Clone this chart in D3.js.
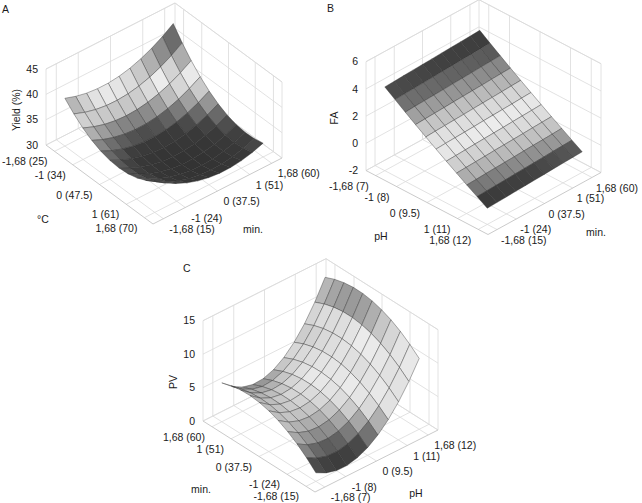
<!DOCTYPE html>
<html>
<head>
<meta charset="utf-8">
<title>Response surfaces</title>
<script src="https://d3js.org/d3.v7.min.js"></script>
<style>
  body { margin: 0; background: #fff; }
  svg text { font-family: "Liberation Sans", Arial, Helvetica, sans-serif; font-size: 10.5px; fill: #1a1a1a; }
</style>
</head>
<body>
<svg width="642" height="503"></svg>
<script>
// coded levels of the 11 x 11 design grid
var levels = [-1.68, -1.344, -1.008, -0.672, -0.336, 0, 0.336, 0.672, 1.008, 1.344, 1.68];
var codedTicks = [-1.68, -1, 0, 1, 1.68];

// tick labels: coded level (real value)
var tempLabels = ["-1,68 (25)", "-1 (34)", "0 (47.5)", "1 (61)", "1,68 (70)"];
var timeLabels = ["-1,68 (15)", "-1 (24)", "0 (37.5)", "1 (51)", "1,68 (60)"];
var phLabels = ["-1,68 (7)", "-1 (8)", "0 (9.5)", "1 (11)", "1,68 (12)"];
var yieldTicks = [30, 35, 40, 45];
var faTicks = [-2, 0, 2, 4, 6];
var pvTicks = [0, 5, 10, 15];

// Yield (%): rows = temperature level, columns = time level
var yieldValues = [
  [39.43, 38.72, 38.25, 38.03, 38.04, 38.30, 38.80, 39.55, 40.53, 41.76, 43.24],
  [37.65, 36.86, 36.32, 36.02, 35.97, 36.15, 36.58, 37.25, 38.17, 39.33, 40.73],
  [36.18, 35.33, 34.71, 34.34, 34.21, 34.33, 34.69, 35.29, 36.13, 37.22, 38.54],
  [35.04, 34.11, 33.43, 32.99, 32.79, 32.83, 33.11, 33.64, 34.41, 35.43, 36.68],
  [34.23, 33.23, 32.47, 31.95, 31.68, 31.65, 31.87, 32.32, 33.02, 33.96, 35.15],
  [33.73, 32.66, 31.83, 31.25, 30.90, 30.80, 30.94, 31.33, 31.95, 32.82, 33.93],
  [33.57, 32.42, 31.52, 30.86, 30.45, 30.27, 30.34, 30.65, 31.21, 32.01, 33.05],
  [33.72, 32.51, 31.53, 30.80, 30.31, 30.07, 30.07, 30.31, 30.79, 31.51, 32.48],
  [34.20, 32.91, 31.87, 31.07, 30.51, 30.19, 30.11, 30.28, 30.69, 31.35, 32.24],
  [35.01, 33.65, 32.53, 31.65, 31.02, 30.63, 30.48, 30.58, 30.92, 31.50, 32.33],
  [36.13, 34.70, 33.51, 32.56, 31.86, 31.40, 31.18, 31.20, 31.47, 31.98, 32.73]
];

// FA: rows = pH level, columns = time level
var faValues = [
  [4.16, 4.19, 4.23, 4.26, 4.29, 4.32, 4.36, 4.39, 4.42, 4.45, 4.49],
  [3.62, 3.66, 3.69, 3.72, 3.75, 3.79, 3.82, 3.85, 3.88, 3.92, 3.95],
  [3.09, 3.13, 3.16, 3.19, 3.22, 3.26, 3.29, 3.32, 3.36, 3.39, 3.42],
  [2.57, 2.61, 2.64, 2.67, 2.71, 2.74, 2.77, 2.80, 2.84, 2.87, 2.90],
  [2.06, 2.10, 2.13, 2.16, 2.19, 2.23, 2.26, 2.29, 2.32, 2.36, 2.39],
  [1.56, 1.60, 1.63, 1.66, 1.69, 1.73, 1.76, 1.79, 1.82, 1.86, 1.89],
  [1.07, 1.10, 1.13, 1.17, 1.20, 1.23, 1.26, 1.30, 1.33, 1.36, 1.40],
  [0.59, 0.62, 0.65, 0.68, 0.72, 0.75, 0.78, 0.81, 0.85, 0.88, 0.91],
  [0.11, 0.14, 0.18, 0.21, 0.24, 0.27, 0.31, 0.34, 0.37, 0.40, 0.44],
  [-0.35, -0.32, -0.29, -0.26, -0.22, -0.19, -0.16, -0.13, -0.09, -0.06, -0.03],
  [-0.81, -0.78, -0.75, -0.71, -0.68, -0.65, -0.62, -0.58, -0.55, -0.52, -0.49]
];

// PV: rows = pH level, columns = time level
var pvValues = [
  [1.28, 2.65, 3.81, 4.77, 5.53, 6.09, 6.44, 6.59, 6.53, 6.27, 5.81],
  [0.49, 1.80, 2.91, 3.82, 4.52, 5.02, 5.32, 5.41, 5.30, 4.99, 4.48],
  [0.07, 1.34, 2.41, 3.27, 3.93, 4.38, 4.64, 4.69, 4.53, 4.18, 3.62],
  [0.05, 1.28, 2.31, 3.14, 3.76, 4.18, 4.39, 4.41, 4.22, 3.82, 3.23],
  [0.40, 1.61, 2.61, 3.41, 4.01, 4.40, 4.59, 4.58, 4.36, 3.94, 3.32],
  [1.14, 2.33, 3.31, 4.10, 4.67, 5.05, 5.22, 5.19, 4.96, 4.52, 3.88],
  [2.26, 3.44, 4.42, 5.19, 5.76, 6.13, 6.29, 6.25, 6.01, 5.56, 4.92],
  [3.77, 4.95, 5.93, 6.70, 7.27, 7.64, 7.80, 7.76, 7.52, 7.08, 6.43],
  [5.66, 6.85, 7.84, 8.62, 9.20, 9.58, 9.75, 9.72, 9.49, 9.05, 8.41],
  [7.93, 9.14, 10.15, 10.95, 11.55, 11.94, 12.14, 12.13, 11.91, 11.49, 10.87],
  [10.59, 11.82, 12.86, 13.69, 14.31, 14.74, 14.96, 14.98, 14.79, 14.40, 13.81]
];

// layout of each panel: floor corner, screen vectors of the u (left) and v (right) axes, height of z range
var panels = [
  {
    letter: "A", values: yieldValues, rowsOn: "u",
    uDomain: [-2, 2], vDomain: [-2, 2], zDomain: [30, 45], zTicks: yieldTicks,
    uLabels: tempLabels, vLabels: timeLabels,
    zTitle: "Yield (%)", uTitle: "\u00b0C", vTitle: "min.",
    origin: [46, 145], ub: [107, 79], vb: [129, -66], zh: 76,
    letterPos: [2, 13], zTitlePos: [16, 110], uTitlePos: [43, 223], vTitlePos: [253, 233],
    vLabelDx: 6, ambient: 0.4,
    shadeZ: [30, 31.8, 33.2, 35.0, 36.8, 38.6, 40.6, 43.2],
    shadeGray: [50, 60, 115, 195, 238, 185, 120, 75]
  },
  {
    letter: "B", values: faValues, rowsOn: "u",
    uDomain: [-2, 2], vDomain: [-2, 2], zDomain: [-2, 6], zTicks: faTicks,
    uLabels: phLabels, vLabels: timeLabels,
    zTitle: "FA", uTitle: "pH", vTitle: "min.",
    origin: [366, 170.5], ub: [122, 64], vb: [113, -62], zh: 108.8,
    letterPos: [327, 12], zTitlePos: [334, 118], uTitlePos: [381, 240], vTitlePos: [596, 236],
    vLabelDx: 4, ambient: 0.4,
    shadeZ: [-0.8, -0.42, 0.04, 0.51, 0.99, 1.48, 1.98, 2.48, 3.0, 3.52, 4.06, 4.5],
    shadeGray: [50, 65, 140, 188, 215, 236, 220, 190, 148, 100, 65, 55]
  },
  {
    letter: "C", values: pvValues, rowsOn: "v",
    uDomain: [2, -2], vDomain: [-2, 2], zDomain: [0, 15], zTicks: pvTicks,
    uLabels: timeLabels, vLabels: phLabels,
    zTitle: "PV", uTitle: "min.", vTitle: "pH",
    origin: [203, 421], ub: [112, 71], vb: [123, -62], zh: 100.3,
    letterPos: [183, 272], zTitlePos: [173, 382], uTitlePos: [201, 493], vTitlePos: [416, 497],
    vLabelDx: 6, ambient: 0.6,
    shadeZ: [0, 1.5, 3, 4.5, 6, 8, 10.5, 12.5, 14, 15],
    shadeGray: [50, 75, 150, 215, 235, 222, 236, 205, 140, 105]
  }
];

var light = [0.55, -0.45, 0.7];
var ll = Math.hypot(light[0], light[1], light[2]);
light = light.map(function(d) { return d / ll; });

var svg = d3.select("svg");
panels.forEach(drawPanel);

function drawPanel(p) {
  var fu = d3.scaleLinear().domain(p.uDomain).range([0, 1]);
  var fv = d3.scaleLinear().domain(p.vDomain).range([0, 1]);
  var zs = d3.scaleLinear().domain(p.zDomain).range([0, p.zh]);
  var zn = d3.scaleLinear().domain(p.zDomain).range([0, 1]);
  var gray = d3.scaleLinear().domain(p.shadeZ).range(p.shadeGray).clamp(true);

  function pt(u, v, z) {
    var a = fu(u), b = fv(v);
    return [p.origin[0] + a * p.ub[0] + b * p.vb[0],
            p.origin[1] + a * p.ub[1] + b * p.vb[1] - zs(z)];
  }

  var g = svg.append("g");
  var u0 = p.uDomain[0], u1 = p.uDomain[1];
  var v0 = p.vDomain[0], v1 = p.vDomain[1];
  var z0 = p.zDomain[0], z1 = p.zDomain[1];

  // grid on floor and back walls
  var segs = [];
  codedTicks.forEach(function(t) {
    segs.push([[t, v0, z0], [t, v1, z0]]);
    segs.push([[u0, t, z0], [u1, t, z0]]);
    segs.push([[u0, t, z0], [u0, t, z1]]);
    segs.push([[t, v1, z0], [t, v1, z1]]);
  });
  p.zTicks.forEach(function(z) {
    segs.push([[u0, v0, z], [u0, v1, z]]);
    segs.push([[u0, v1, z], [u1, v1, z]]);
  });
  segs.push([[u0, v0, z0], [u0, v0, z1]], [[u0, v1, z0], [u0, v1, z1]], [[u1, v1, z0], [u1, v1, z1]],
            [[u0, v0, z1], [u0, v1, z1]], [[u0, v1, z1], [u1, v1, z1]],
            [[u0, v0, z0], [u0, v1, z0]], [[u0, v1, z0], [u1, v1, z0]]);

  g.append("g")
    .selectAll("line").data(segs).join("line")
    .attr("x1", function(s) { return pt.apply(null, s[0])[0]; })
    .attr("y1", function(s) { return pt.apply(null, s[0])[1]; })
    .attr("x2", function(s) { return pt.apply(null, s[1])[0]; })
    .attr("y2", function(s) { return pt.apply(null, s[1])[1]; })
    .attr("stroke", "#dadada").attr("stroke-width", 0.8);

  // front floor edges (axis lines)
  var axes = [[[u0, v0, z0], [u1, v0, z0]], [[u1, v0, z0], [u1, v1, z0]]];
  g.append("g")
    .selectAll("line").data(axes).join("line")
    .attr("x1", function(s) { return pt.apply(null, s[0])[0]; })
    .attr("y1", function(s) { return pt.apply(null, s[0])[1]; })
    .attr("x2", function(s) { return pt.apply(null, s[1])[0]; })
    .attr("y2", function(s) { return pt.apply(null, s[1])[1]; })
    .attr("stroke", "#c4c4c4").attr("stroke-width", 0.9);

  // surface facets
  function zAt(iu, iv) {
    return p.rowsOn === "u" ? p.values[iu][iv] : p.values[iv][iu];
  }
  var n = levels.length, faces = [];
  for (var iu = 0; iu < n - 1; iu++) {
    for (var iv = 0; iv < n - 1; iv++) {
      var ua = levels[iu], ub2 = levels[iu + 1], va = levels[iv], vb2 = levels[iv + 1];
      var z00 = zAt(iu, iv), z10 = zAt(iu + 1, iv), z11 = zAt(iu + 1, iv + 1), z01 = zAt(iu, iv + 1);
      var da = fu(ub2) - fu(ua), db = fv(vb2) - fv(va);
      var gu = ((zn(z10) - zn(z00)) + (zn(z11) - zn(z01))) / 2 / da;
      var gv = ((zn(z01) - zn(z00)) + (zn(z11) - zn(z10))) / 2 / db;
      var len = Math.hypot(gu, gv, 1);
      var shade = Math.max(0, (-gu * light[0] - gv * light[1] + light[2]) / len);
      var factor = Math.min(1, p.ambient + (1 - p.ambient) * shade / 0.8);
      var mean = (z00 + z10 + z11 + z01) / 4;
      var c = Math.round(50 + (gray(mean) - 50) * factor);
      var cu = (fu(ua) + fu(ub2)) / 2, cv = (fv(va) + fv(vb2)) / 2;
      faces.push({
        pts: [pt(ua, va, z00), pt(ub2, va, z10), pt(ub2, vb2, z11), pt(ua, vb2, z01)],
        color: d3.rgb(c, c, c).formatHex(),
        depth: p.vb[0] * cu - p.ub[0] * cv
      });
    }
  }
  faces.sort(function(a, b) { return a.depth - b.depth; });

  g.append("g")
    .selectAll("path").data(faces).join("path")
    .attr("d", function(f) { return "M" + f.pts.join("L") + "Z"; })
    .attr("fill", function(f) { return f.color; })
    .attr("stroke", "#2e2e2e").attr("stroke-width", 0.45).attr("stroke-opacity", 0.85)
    .attr("stroke-linejoin", "round");

  // tick labels
  var lab = g.append("g");
  lab.selectAll("text.z").data(p.zTicks).join("text").attr("class", "z")
    .attr("x", function(z) { return pt(u0, v0, z)[0] - 8; })
    .attr("y", function(z) { return pt(u0, v0, z)[1]; })
    .attr("dy", "0.35em").attr("text-anchor", "end")
    .text(function(z) { return z; });
  lab.selectAll("text.u").data(codedTicks).join("text").attr("class", "u")
    .attr("x", function(t) { return pt(t, v0, z0)[0] - 7; })
    .attr("y", function(t) { return pt(t, v0, z0)[1] + 10.5; })
    .attr("dy", "0.35em").attr("text-anchor", "end")
    .text(function(t, i) { return p.uLabels[i]; });
  lab.selectAll("text.v").data(codedTicks).join("text").attr("class", "v")
    .attr("x", function(t) { return pt(u1, t, z0)[0] + p.vLabelDx; })
    .attr("y", function(t) { return pt(u1, t, z0)[1] + 10.5; })
    .attr("dy", "0.35em").attr("text-anchor", "start")
    .text(function(t, i) { return p.vLabels[i]; });

  // axis titles and panel letter
  lab.append("text")
    .attr("transform", "translate(" + p.zTitlePos[0] + "," + p.zTitlePos[1] + ") rotate(-90)")
    .attr("dy", "0.35em").attr("text-anchor", "middle").text(p.zTitle);
  lab.append("text").attr("x", p.uTitlePos[0]).attr("y", p.uTitlePos[1])
    .attr("text-anchor", "middle").text(p.uTitle);
  lab.append("text").attr("x", p.vTitlePos[0]).attr("y", p.vTitlePos[1])
    .attr("text-anchor", "middle").text(p.vTitle);
  lab.append("text").attr("x", p.letterPos[0]).attr("y", p.letterPos[1]).text(p.letter);
}
</script>
</body>
</html>
